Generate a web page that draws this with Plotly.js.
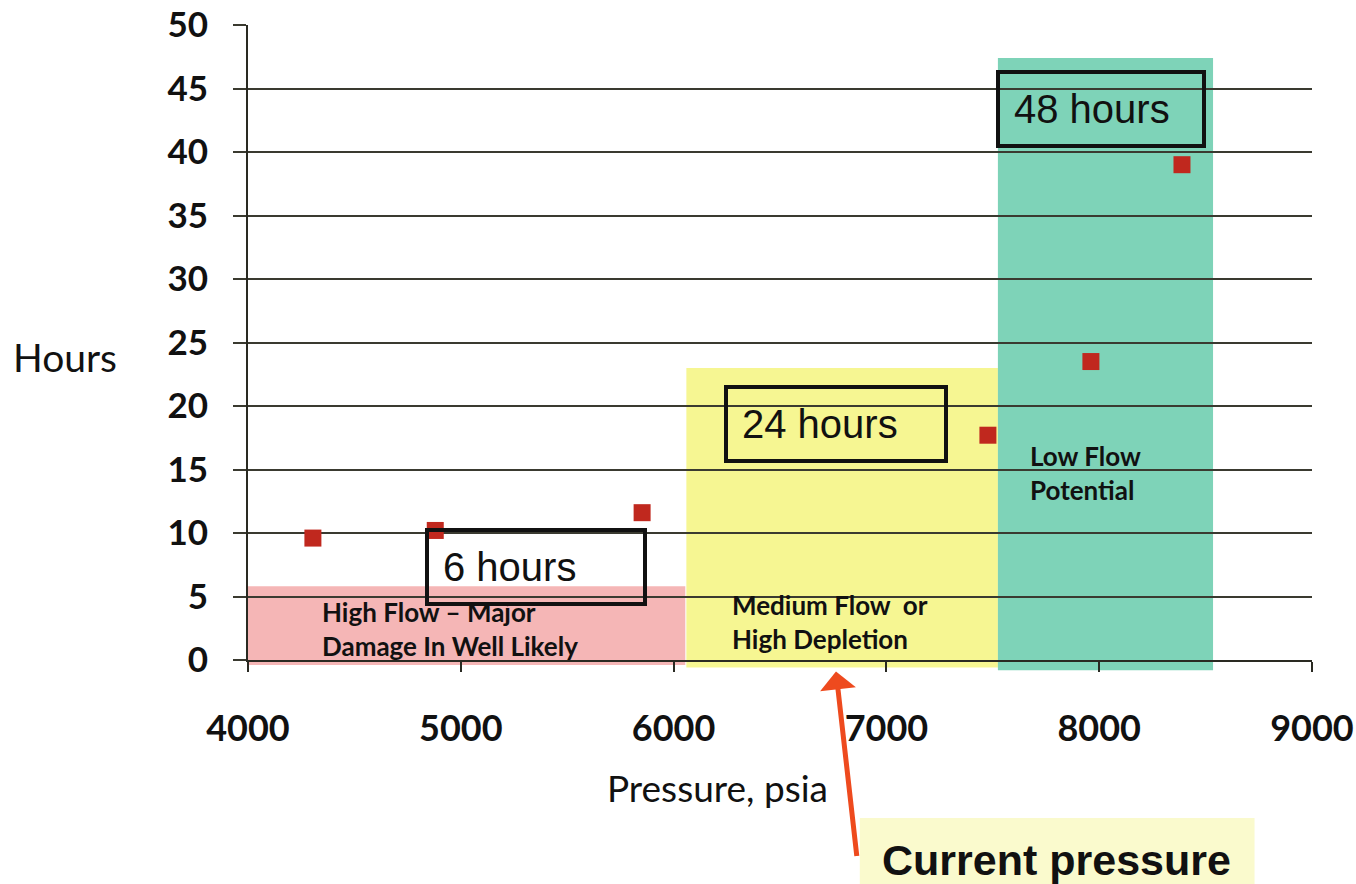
<!DOCTYPE html>
<html>
<head>
<meta charset="utf-8">
<script src="https://cdn.plot.ly/plotly-3.0.1.min.js"></script>
<style>html,body{margin:0;padding:0;background:#fff;}#chart{width:1356px;height:884px;}</style>
</head>
<body>
<div id="chart"></div>
<script>
// Data points (pressure psia, hours)
const pressure = [4305, 4880, 5852, 7477, 7961, 8389];
const hours = [9.6, 10.2, 11.6, 17.7, 23.5, 39.0];

// Flow zones
const zoneNames = ["High Flow – Major<br>Damage In Well Likely", "Medium Flow  or<br>High Depletion", "Low Flow<br>Potential"];
const zoneStart = [4000, 6060, 7524];
const zoneEnd = [6055, 7524, 8535];
const zoneTop = [5.8, 23.0, 47.4];
const zoneColors = ["rgba(244,178,178,0.95)", "rgba(246,246,140,0.95)", "rgba(112,206,176,0.9)"];

// Test-duration boxes
const boxLabels = ["6 hours", "24 hours", "48 hours"];
const boxLeft = [4832, 6237, 7515];
const boxTop = [10.4, 21.65, 46.45];

const xTicks = [4000, 5000, 6000, 7000, 8000, 9000];
const yTicks = [0, 5, 10, 15, 20, 25, 30, 35, 40, 45, 50];

const currentPressure = 6763;

const shapes = zoneStart.map((s, i) => ({
  type: 'rect', xref: 'x', yref: 'y', x0: s, x1: zoneEnd[i], y0: 0, y1: zoneTop[i],
  fillcolor: zoneColors[i], line: {width: 0}, layer: 'below'
}));
// slight overhang of the shaded zones below the x axis
zoneStart.forEach((s, i) => shapes.push({
  type: 'rect', xref: 'x', yref: 'paper', x0: s, x1: zoneEnd[i], y0: [-0.008, -0.012, -0.016][i], y1: 0,
  fillcolor: zoneColors[i], line: {width: 0}, layer: 'below'
}));
shapes.push({type: 'rect', xref: 'paper', yref: 'paper', x0: 0.575, x1: 0.946, y0: -0.36, y1: -0.249,
  fillcolor: 'rgba(250,250,205,1)', line: {width: 0}, layer: 'below'});

const annotations = [];
// zone labels
const zoneLabelX = [4338, 6265, 7665];
const zoneLabelY = [2.45, 3.0, 14.7];
zoneNames.forEach((n, i) => annotations.push({
  xref: 'x', yref: 'y', x: zoneLabelX[i], y: zoneLabelY[i], text: n, showarrow: false,
  xanchor: 'left', yanchor: 'middle', align: 'left',
  font: {family: 'Lato', size: 26, color: '#111', weight: 'bold'}
}));
// duration boxes
const boxW = [186, 188, 174];
boxLabels.forEach((b, i) => annotations.push({
  xref: 'x', yref: 'y', x: boxLeft[i], y: boxTop[i], text: b, showarrow: false,
  xanchor: 'left', yanchor: 'top', align: 'left', valign: 'middle',
  width: boxW[i], height: 42, borderpad: 14,
  bordercolor: '#111', borderwidth: 4,
  font: {family: 'Liberation Sans, Arial', size: 40, color: '#111'}
}));
// axis titles
annotations.push({xref: 'paper', yref: 'paper', x: -0.172, y: 0.477, xanchor: 'center', yanchor: 'middle',
  text: 'Hours', showarrow: false, font: {family: 'Lato', size: 39, color: '#111'}});
annotations.push({xref: 'paper', yref: 'paper', x: 0.4417, y: -0.2, xanchor: 'center', yanchor: 'middle',
  text: 'Pressure, psia', showarrow: false, font: {family: 'Lato', size: 37, color: '#111'}});
// current pressure arrow
annotations.push({xref: 'x', yref: 'paper', x: currentPressure, y: -0.018, ax: 21, ay: 186, text: '',
  showarrow: true, arrowhead: 1, arrowsize: 1.2, arrowwidth: 5, arrowcolor: '#ee4a1e'});
annotations.push({xref: 'paper', yref: 'paper', x: 0.594, y: -0.315, xanchor: 'left', yanchor: 'middle',
  text: '<b>Current pressure</b>', showarrow: false,
  font: {family: 'Liberation Sans, Arial', size: 43, color: '#111'}});

const trace = {
  x: pressure, y: hours, type: 'scatter', mode: 'markers',
  marker: {symbol: 'square', size: 17, color: '#c0281e', line: {width: 0}},
  showlegend: false, hoverinfo: 'x+y'
};

const layout = {
  width: 1356, height: 884,
  margin: {l: 248, r: 44, t: 25, b: 224},
  paper_bgcolor: '#fff', plot_bgcolor: '#fff',
  showlegend: false,
  xaxis: {
    range: [4000, 9000], tickvals: xTicks, ticktext: xTicks.map(String),
    showgrid: false, zeroline: false, showline: true, linecolor: '#2a2a22', linewidth: 2,
    ticks: 'outside', ticklen: 10, tickwidth: 2, tickcolor: '#2a2a22', ticklabelstandoff: 26,
    tickfont: {family: 'Lato', size: 36, color: '#111', weight: 'bold'}
  },
  yaxis: {
    range: [0, 50], tickvals: yTicks, ticktext: yTicks.map(String),
    showgrid: true, gridcolor: '#3a3a30', gridwidth: 2, zeroline: false,
    showline: true, linecolor: '#2a2a22', linewidth: 2,
    ticks: 'outside', ticklen: 13, tickwidth: 2, tickcolor: '#3a3a30', ticklabelstandoff: 18,
    tickfont: {family: 'Lato', size: 35, color: '#111', weight: 'bold'}
  },
  shapes: shapes,
  annotations: annotations
};

Plotly.newPlot('chart', [trace], layout, {displayModeBar: false, staticPlot: true});
</script>
</body>
</html>
